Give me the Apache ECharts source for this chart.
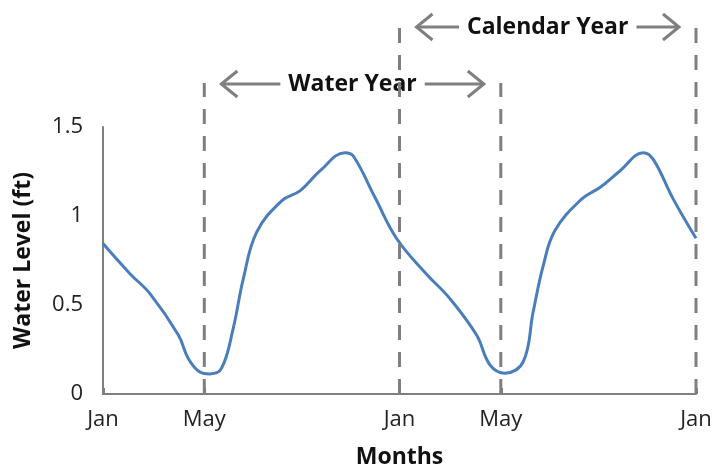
<!DOCTYPE html>
<html>
<head>
<meta charset="utf-8">
<title>Water Level</title>
<script src="https://cdn.jsdelivr.net/npm/echarts@6/dist/echarts.min.js"></script>
<style>
  html, body { margin: 0; padding: 0; background: #fff; }
  #main { width: 716px; height: 474px; }
</style>
</head>
<body>
<div id="main"></div>
<script>
// months counted from the first January
var months = [0, 1.09, 1.9, 3.05, 3.45, 3.93, 4.33, 4.8, 5.27, 5.68, 6.22, 7.23, 7.97, 8.78, 9.79, 10.13, 11.01, 11.89,
              13.05, 14.04, 15.12, 15.66, 16.27, 17.01, 17.41, 17.82, 18.29, 19.37, 20.11, 20.92, 21.87, 22.27, 23.08, 24];
var levels = [0.845, 0.676, 0.564, 0.331, 0.20, 0.123, 0.113, 0.145, 0.369, 0.648, 0.909, 1.085, 1.141, 1.253, 1.356, 1.337, 1.104, 0.872,
              0.68, 0.536, 0.331, 0.164, 0.117, 0.182, 0.462, 0.722, 0.918, 1.095, 1.16, 1.253, 1.356, 1.318, 1.095, 0.875];

var tickMonths = [0, 4.1, 12, 16.1, 24];
var tickNames  = ['Jan', 'May', 'Jan', 'May', 'Jan'];

var spanLabels = ['Water Year', 'Calendar Year'];
var spanStarts = [4.1, 12];
var spanEnds   = [16.1, 24];

var FONT = '"Open Sans"';
var GRAY = '#7f7f7f';

var chart = echarts.init(document.getElementById('main'), null, { renderer: 'canvas' });

var points = [];
for (var i = 0; i < months.length; i++) points.push([months[i], levels[i]]);

chart.setOption({
    animation: false,
    grid: { left: 103, right: 20, top: 127, bottom: 79 },
    xAxis: {
        type: 'value',
        min: 0,
        max: 24,
        name: 'Months',
        nameLocation: 'middle',
        nameGap: 52,
        nameTextStyle: { fontFamily: FONT, fontWeight: 'bold', fontSize: 23, color: '#111' },
        axisLine: { lineStyle: { color: GRAY, width: 2 } },
        axisTick: { show: true, inside: true, length: 6, customValues: tickMonths, lineStyle: { color: GRAY, width: 3 } },
        axisLabel: {
            customValues: tickMonths,
            margin: 15,
            fontFamily: FONT, fontSize: 22, color: '#222',
            formatter: function (v) {
                var k = tickMonths.indexOf(v);
                return k >= 0 ? tickNames[k] : '';
            }
        },
        splitLine: { show: false }
    },
    yAxis: {
        type: 'value',
        min: 0,
        max: 1.5,
        interval: 0.5,
        name: 'Water Level (ft)',
        nameLocation: 'middle',
        nameGap: 68,
        nameTextStyle: { fontFamily: FONT, fontWeight: 'bold', fontSize: 23, color: '#111' },
        axisLine: { show: true, lineStyle: { color: GRAY, width: 2 } },
        axisTick: { show: false },
        axisLabel: { margin: 20, fontFamily: FONT, fontSize: 22, color: '#222' },
        splitLine: { show: false }
    },
    series: [{
        type: 'line',
        data: points,
        smooth: 0.4,
        showSymbol: false,
        lineStyle: { color: '#4a7ebb', width: 3 },
        z: 2
    }]
});

// dashed dividers and the year arrows, placed through the axes
function drawNotes() {
    var els = [];
    var base = chart.convertToPixel({ gridIndex: 0 }, [0, 0])[1];
    var rowY = [84, 27];
    var lineTop = [83, 18];
    var ctx = document.createElement('canvas').getContext('2d');
    ctx.font = 'bold 23px ' + FONT;

    for (var s = 0; s < spanLabels.length; s++) {
        var xa = chart.convertToPixel({ xAxisIndex: 0 }, spanStarts[s]);
        var xb = chart.convertToPixel({ xAxisIndex: 0 }, spanEnds[s]);
        [xa, xb].forEach(function (x) {
            els.push({
                type: 'line', z: 10,
                shape: { x1: x, y1: base, x2: x, y2: lineTop[s] },
                style: { stroke: GRAY, lineWidth: 3, lineDash: [15, 12] }
            });
        });

        var y = rowY[s];
        var cx = (xa + xb) / 2;
        var w = ctx.measureText(spanLabels[s]).width;
        var x0 = xa + 17, x1 = xb - 17;
        var arrow = { stroke: GRAY, lineWidth: 3, fill: null };
        els.push({ type: 'line', z: 10, shape: { x1: x0, y1: y, x2: cx - w / 2 - 8, y2: y }, style: arrow });
        els.push({ type: 'polyline', z: 10, shape: { points: [[x0 + 16, y - 13], [x0, y], [x0 + 16, y + 13]] }, style: arrow });
        els.push({ type: 'line', z: 10, shape: { x1: cx + w / 2 + 8, y1: y, x2: x1, y2: y }, style: arrow });
        els.push({ type: 'polyline', z: 10, shape: { points: [[x1 - 16, y - 13], [x1, y], [x1 - 16, y + 13]] }, style: arrow });
        els.push({
            type: 'text', z: 10,
            x: cx, y: y,
            style: { text: spanLabels[s], fontFamily: FONT, fontWeight: 'bold', fontSize: 23, fill: '#111', align: 'center', verticalAlign: 'middle' }
        });
    }
    chart.setOption({ graphic: els });
}
drawNotes();
</script>
</body>
</html>
